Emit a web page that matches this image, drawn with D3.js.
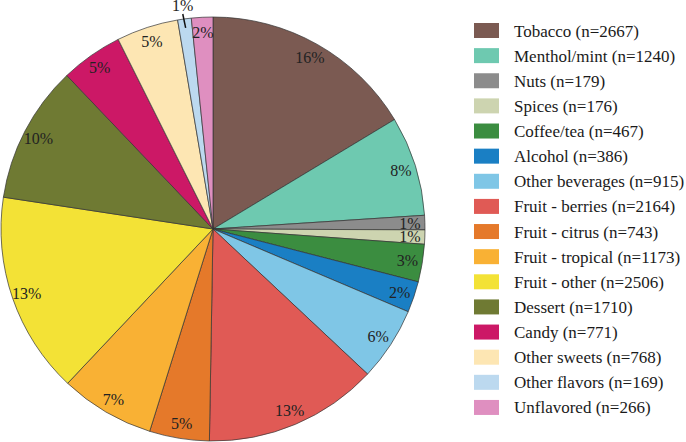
<!DOCTYPE html>
<html>
<head>
<meta charset="utf-8">
<script src="https://cdn.jsdelivr.net/npm/d3@7"></script>
<style>
  body { margin: 0; background: #fff; }
</style>
</head>
<body>
<script>
// flavour categories, counts and the percentage labels printed on the slices
var categories = ["Tobacco", "Menthol/mint", "Nuts", "Spices", "Coffee/tea", "Alcohol",
  "Other beverages", "Fruit - berries", "Fruit - citrus", "Fruit - tropical", "Fruit - other",
  "Dessert", "Candy", "Other sweets", "Other flavors", "Unflavored"];
var counts = [2667, 1240, 179, 176, 467, 386, 915, 2164, 743, 1173, 2506, 1710, 771, 768, 169, 266];
var pctLabels = ["16%", "8%", "1%", "1%", "3%", "2%", "6%", "13%", "5%", "7%", "13%", "10%", "5%", "5%", "1%", "2%"];
var colors = ["#7b5a52", "#6ec9b0", "#8c8c8c", "#cdd4b0", "#3b8d40", "#1a7fc4", "#7fc6e6", "#e05a55",
  "#e5792a", "#f9b134", "#f3e236", "#6f7a33", "#cc1866", "#fde6b3", "#bcd9ef", "#df8fc0"];

var w = 686, h = 442;
var cx = 213, cy = 229, r = 212;
var serif = "'Liberation Serif', 'Times New Roman', Times, 'DejaVu Serif', serif";

var svg = d3.select("body").append("svg")
  .attr("width", w)
  .attr("height", h)
  .style("font-family", serif);

var data = categories.map(function(c, i) {
  return { name: c, n: counts[i], label: pctLabels[i], color: colors[i] };
});

var pie = d3.pie().sort(null).value(function(d) { return d.n; });
var arcs = pie(data);

var arc = d3.arc().innerRadius(0).outerRadius(r);
var labelArc = d3.arc().innerRadius(197).outerRadius(197);

var g = svg.append("g").attr("transform", "translate(" + cx + "," + cy + ")");

g.selectAll("path.slice")
  .data(arcs)
  .enter().append("path")
  .attr("class", "slice")
  .attr("d", arc)
  .attr("fill", function(d) { return d.data.color; })
  .attr("stroke", "#333")
  .attr("stroke-width", 0.7);

// labels inside slices, except the thin "Other flavors" one which gets a leader
g.selectAll("text.pct")
  .data(arcs)
  .enter().append("text")
  .attr("class", "pct")
  .attr("transform", function(d) {
    var p;
    if (d.data.name === "Other flavors") {
      p = d3.arc().innerRadius(226).outerRadius(226).centroid(d);
    } else {
      p = labelArc.centroid(d);
    }
    return "translate(" + p[0] + "," + p[1] + ")";
  })
  .attr("text-anchor", "middle")
  .attr("dy", "0.35em")
  .attr("font-family", serif)
  .attr("font-size", 16)
  .attr("fill", "#222")
  .text(function(d) { return d.data.label; });

var of = arcs.filter(function(d) { return d.data.name === "Other flavors"; })[0];
var a1 = d3.arc().innerRadius(203).outerRadius(203).centroid(of);
var a2 = d3.arc().innerRadius(217).outerRadius(217).centroid(of);
g.append("line")
  .attr("x1", a1[0]).attr("y1", a1[1])
  .attr("x2", a2[0] - 1).attr("y2", a2[1])
  .attr("stroke", "#111")
  .attr("stroke-width", 1.5);

// legend
var y = d3.scaleBand()
  .domain(categories)
  .range([18, 18 + 25.13 * categories.length]);

var legend = svg.append("g").attr("transform", "translate(474,0)");

var item = legend.selectAll("g.item")
  .data(data)
  .enter().append("g")
  .attr("class", "item")
  .attr("transform", function(d) { return "translate(0," + y(d.name) + ")"; });

item.append("rect")
  .attr("x", 0)
  .attr("y", 5)
  .attr("width", 25)
  .attr("height", 15)
  .attr("fill", function(d) { return d.color; });

item.append("text")
  .attr("x", 40)
  .attr("y", y.bandwidth() / 2)
  .attr("dy", "0.35em")
  .attr("font-family", serif)
  .attr("font-size", 17)
  .attr("fill", "#1a1a1a")
  .text(function(d) { return d.name + " (n=" + d.n + ")"; });
</script>
</body>
</html>
